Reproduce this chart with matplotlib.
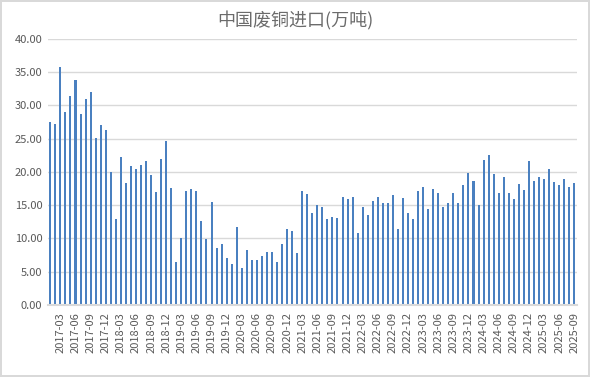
"""
China scrap copper imports, monthly bars
"""

import numpy as np
import matplotlib.pyplot as plt

plt.rcParams['font.family'] = ['Noto Sans CJK SC', 'DejaVu Sans']

#Monthly categories 2017-01 .. 2025-09
months = []
for yr in range(2017, 2026):
    for mo in range(1, 13):
        if yr == 2025 and mo > 9:
            break
        months.append("%d-%02d" % (yr, mo))

#Imports, 10k tonnes
imports = [
    27.5, 27.2, 35.8, 29.0, 31.4, 33.8, 28.7, 31.0, 32.0, 25.1, 27.0, 26.3,
    20.0, 12.9, 22.2, 18.3, 20.9, 20.5, 21.0, 21.6, 19.5, 17.0, 21.9, 24.6,
    17.6, 6.4, 10.0, 17.2, 17.4, 17.1, 12.6, 9.9, 15.5, 8.5, 9.1, 7.0,
    6.2, 11.8, 5.5, 8.2, 6.8, 6.7, 7.4, 8.0, 7.9, 6.5, 9.2, 11.5,
    11.1, 7.8, 17.1, 16.7, 13.8, 15.0, 14.8, 12.9, 13.3, 13.1, 16.3, 16.0,
    16.2, 10.9, 14.8, 13.5, 15.7, 16.3, 15.4, 15.3, 16.6, 11.4, 16.1, 13.8,
    12.9, 17.2, 17.7, 14.4, 17.5, 16.9, 14.8, 15.4, 16.9, 15.4, 18.1, 19.9,
    18.6, 15.1, 21.8, 22.5, 19.7, 16.8, 19.3, 16.8, 15.9, 18.2, 17.3, 21.6,
    18.7, 19.2, 18.9, 20.4, 18.5, 18.1, 18.9, 17.8, 18.4,
]

#Labels every 3 months starting 2017-03
tick_idx = list(range(2, len(months), 3))
tick_labels = [months[i] for i in tick_idx]

fig = plt.figure(figsize=(5.9, 3.77), dpi=100)
fig.patch.set_edgecolor('#d9d9d9')
fig.patch.set_linewidth(1.5)
ax = fig.add_axes([0.081, 0.191, 0.8966, 0.7056])

x = np.arange(len(months))
ax.bar(x, imports, width=0.4, color='#4a80c0', zorder=3)

ax.set_xlim(-0.5, len(months) - 0.5)
ax.set_ylim(0, 40)
ax.set_yticks(np.arange(0, 41, 5))
ax.set_yticklabels(["%.2f" % v for v in np.arange(0, 41, 5)])
ax.set_xticks(tick_idx)
ax.set_xticklabels(tick_labels, rotation=90)
ax.tick_params(axis='both', length=0, labelsize=8, colors='#595959')
ax.tick_params(axis='x', pad=5)
ax.tick_params(axis='y', pad=4)

ax.yaxis.grid(True, color='#d9d9d9', linewidth=1, zorder=0)
for side in ['top', 'right', 'left']:
    ax.spines[side].set_visible(False)
ax.spines['bottom'].set_color('#d9d9d9')
ax.spines['bottom'].set_linewidth(1.5)
ax.spines['bottom'].set_zorder(4)

fig.text(0.5, 0.945, "中国废铜进口(万吨)", ha='center', va='center',
         fontsize=13, color='#6b6b6b')

fig.savefig("out.png", dpi=100)
